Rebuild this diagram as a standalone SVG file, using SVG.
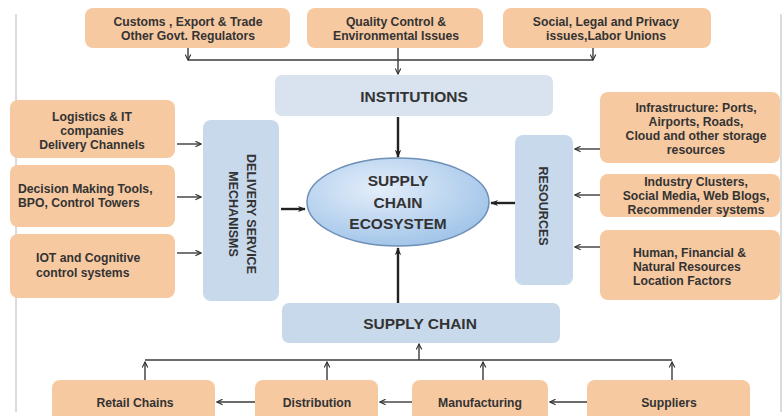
<svg xmlns="http://www.w3.org/2000/svg" width="783" height="416" viewBox="0 0 783 416">
  <defs>
    <style>
      .src{fill:#f6c9a1;}
      .blue{fill:#c8d9ec;}
      .lt{fill:#d8e3ef;}
      .t{font-family:"Liberation Sans",Arial,sans-serif;font-weight:bold;font-size:12.2px;fill:#333333;text-anchor:middle;}
      .tl{text-anchor:start;}
      .h{font-size:15.5px;}
      .v{font-size:12.5px;}
      .ln{stroke:#3a3a3a;stroke-width:1.4;fill:none;}
      .thk{stroke:#222;stroke-width:2.4;fill:none;}
      .frame{stroke:#b8b8b8;stroke-width:1;fill:none;}
    </style>
    <marker id="ah" viewBox="0 0 10 10" refX="9" refY="5" markerWidth="7" markerHeight="7" orient="auto" markerUnits="userSpaceOnUse">
      <path d="M1,1 L9,5 L1,9" fill="none" stroke="#333" stroke-width="1.6"/>
    </marker>
    <marker id="ahf" viewBox="0 0 10 10" refX="9" refY="5" markerWidth="8" markerHeight="8" orient="auto" markerUnits="userSpaceOnUse">
      <path d="M0,1 L10,5 L0,9 L3,5 Z" fill="#222"/>
    </marker>
    <radialGradient id="eg" cx="0.4" cy="0.35" r="0.7">
      <stop offset="0" stop-color="#e4eefa"/>
      <stop offset="1" stop-color="#9fc3e8"/>
    </radialGradient>
  </defs>

  <rect width="783" height="416" fill="#ffffff"/>
  <!-- outer frame -->
  <path class="frame" d="M16,14 V412 M781,14 V412"/>

  <!-- top row: regulators -->
  <g id="customs">
    <rect class="src" x="85" y="8" width="205" height="40" rx="8"/>
    <text class="t" x="188" y="26">Customs , Export &amp; Trade</text>
    <text class="t" x="188" y="40">Other Govt. Regulators</text>
  </g>
  <g id="quality">
    <rect class="src" x="307" y="8" width="176" height="40" rx="8"/>
    <text class="t" x="396" y="26">Quality Control &amp;</text>
    <text class="t" x="396" y="40">Environmental Issues</text>
  </g>
  <g id="social">
    <rect class="src" x="503" y="8" width="208" height="40" rx="8"/>
    <text class="t" x="606" y="26">Social, Legal and Privacy</text>
    <text class="t" x="606" y="40">issues,Labor Unions</text>
  </g>

  <!-- central blocks -->
  <g id="institutions">
    <rect class="lt" x="275" y="75" width="278" height="41" rx="7"/>
    <text class="t h" x="414" y="102">INSTITUTIONS</text>
  </g>
  <g id="ecosystem">
    <ellipse cx="398" cy="202" rx="91" ry="44" fill="url(#eg)" stroke="#6d8fb8" stroke-width="1.5"/>
    <text class="t h" x="398" y="186">SUPPLY</text>
    <text class="t h" x="398" y="208">CHAIN</text>
    <text class="t h" x="398" y="229">ECOSYSTEM</text>
  </g>
  <g id="delivery">
    <rect class="blue" x="203" y="120" width="76" height="181" rx="8"/>
    <g transform="translate(241,214) rotate(90)">
      <text class="t v" x="0" y="-6">DELIVERY  SERVICE</text>
      <text class="t v" x="0" y="12">MECHANISMS</text>
    </g>
  </g>
  <g id="resources">
    <rect class="blue" x="515" y="135" width="58" height="150" rx="8"/>
    <text class="t v" transform="translate(543,206) rotate(90)" x="0" y="4.5">RESOURCES</text>
  </g>
  <g id="supplychain">
    <rect class="blue" x="282" y="303" width="278" height="40" rx="7"/>
    <text class="t h" x="420" y="329">SUPPLY CHAIN</text>
  </g>

  <!-- left inputs -->
  <g id="logistics">
    <rect class="src" x="10" y="100" width="165" height="58" rx="8"/>
    <text class="t" x="92" y="121">Logistics &amp;  IT</text>
    <text class="t" x="92" y="135">companies</text>
    <text class="t" x="92" y="149">Delivery Channels</text>
  </g>
  <g id="decision">
    <rect class="src" x="10" y="165" width="165" height="62" rx="8"/>
    <text class="t tl" x="18" y="193">Decision Making Tools,</text>
    <text class="t tl" x="18" y="207">BPO, Control Towers</text>
  </g>
  <g id="iot">
    <rect class="src" x="10" y="234" width="165" height="64" rx="8"/>
    <text class="t tl" x="36" y="262">IOT and Cognitive</text>
    <text class="t tl" x="36" y="277">control systems</text>
  </g>

  <!-- right inputs -->
  <g id="infrastructure">
    <rect class="src" x="600" y="92" width="180" height="71" rx="8"/>
    <text class="t" x="696" y="111.5">Infrastructure: Ports,</text>
    <text class="t" x="696" y="125.5">Airports, Roads,</text>
    <text class="t" x="696" y="139.5">Cloud and other storage</text>
    <text class="t" x="696" y="153.5">resources</text>
  </g>
  <g id="industry">
    <rect class="src" x="600" y="174" width="180" height="43" rx="8"/>
    <text class="t" x="696" y="186">Industry Clusters,</text>
    <text class="t" x="696" y="200">Social Media, Web Blogs,</text>
    <text class="t" x="696" y="214">Recommender systems</text>
  </g>
  <g id="human">
    <rect class="src" x="600" y="230" width="180" height="70" rx="8"/>
    <text class="t tl" x="633" y="257">Human, Financial &amp;</text>
    <text class="t tl" x="633" y="271">Natural  Resources</text>
    <text class="t tl" x="633" y="285">Location Factors</text>
  </g>

  <!-- bottom row -->
  <g id="retail">
    <rect class="src" x="52" y="380" width="163" height="44" rx="8"/>
    <text class="t" x="135" y="406.5">Retail Chains</text>
  </g>
  <g id="distribution">
    <rect class="src" x="255" y="380" width="123" height="44" rx="8"/>
    <text class="t" x="317" y="406.5">Distribution</text>
  </g>
  <g id="manufacturing">
    <rect class="src" x="412" y="380" width="136" height="44" rx="8"/>
    <text class="t" x="480" y="406.5">Manufacturing</text>
  </g>
  <g id="suppliers">
    <rect class="src" x="587" y="380" width="163" height="44" rx="8"/>
    <text class="t" x="669" y="406.5">Suppliers</text>
  </g>

  <!-- connectors -->
  <g id="connectors">
    <!-- regulators to institutions -->
    <path class="ln" d="M188,60 H593"/>
    <path class="ln" d="M188,48 V60" marker-end="url(#ah)"/>
    <path class="ln" d="M593,48 V60" marker-end="url(#ah)"/>
    <path class="ln" d="M398,48 V74" marker-end="url(#ah)"/>
    <!-- institutions to ecosystem -->
    <path class="thk" d="M398,117 V157" marker-end="url(#ahf)"/>
    <!-- left inputs to delivery -->
    <path class="ln" d="M177,144 H201" marker-end="url(#ah)"/>
    <path class="ln" d="M177,197 H201" marker-end="url(#ah)"/>
    <path class="ln" d="M177,253 H201" marker-end="url(#ah)"/>
    <path class="thk" d="M281,209 H305" marker-end="url(#ahf)"/>
    <!-- right inputs to resources -->
    <path class="ln" d="M600,149 H575" marker-end="url(#ah)"/>
    <path class="ln" d="M600,195 H575" marker-end="url(#ah)"/>
    <path class="ln" d="M600,247 H575" marker-end="url(#ah)"/>
    <path class="thk" d="M515,203 H491" marker-end="url(#ahf)"/>
    <!-- supply chain to ecosystem -->
    <path class="thk" d="M398,303 V248" marker-end="url(#ahf)"/>
    <!-- bottom row to supply chain -->
    <path class="ln" d="M145,360 H672"/>
    <path class="ln" d="M419,360 V344" marker-end="url(#ah)"/>
    <path class="ln" d="M145,380 V362" marker-end="url(#ah)"/>
    <path class="ln" d="M327,380 V362" marker-end="url(#ah)"/>
    <path class="ln" d="M483,380 V362" marker-end="url(#ah)"/>
    <path class="ln" d="M672,380 V362" marker-end="url(#ah)"/>
    <!-- flow between bottom boxes -->
    <path class="ln" d="M255,402 H217" marker-end="url(#ah)"/>
    <path class="ln" d="M412,402 H380" marker-end="url(#ah)"/>
    <path class="ln" d="M587,402 H550" marker-end="url(#ah)"/>
  </g>
</svg>
